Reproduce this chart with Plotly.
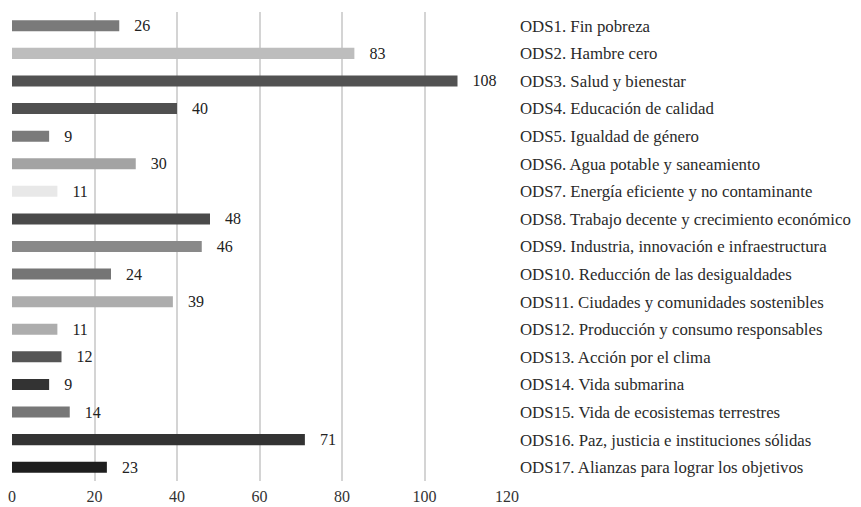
import plotly.graph_objects as go

categories = [
    "ODS1. Fin pobreza",
    "ODS2. Hambre cero",
    "ODS3. Salud y bienestar",
    "ODS4. Educación de calidad",
    "ODS5. Igualdad de género",
    "ODS6. Agua potable y saneamiento",
    "ODS7. Energía eficiente y no contaminante",
    "ODS8. Trabajo decente y crecimiento económico",
    "ODS9. Industria, innovación e infraestructura",
    "ODS10. Reducción de las desigualdades",
    "ODS11. Ciudades y comunidades sostenibles",
    "ODS12. Producción y consumo responsables",
    "ODS13. Acción por el clima",
    "ODS14. Vida submarina",
    "ODS15. Vida de ecosistemas terrestres",
    "ODS16. Paz, justicia e instituciones sólidas",
    "ODS17. Alianzas para lograr los objetivos",
]
values = [26, 83, 108, 40, 9, 30, 11, 48, 46, 24, 39, 11, 12, 9, 14, 71, 23]
colors = ["#7a7a7a", "#bdbdbd", "#525252", "#505050", "#7a7a7a", "#a3a3a3",
          "#e8e8e8", "#4a4a4a", "#898989", "#757575", "#adadad", "#adadad",
          "#555555", "#333333", "#777777", "#333333", "#1e1e1e"]
x_ticks = [0, 20, 40, 60, 80, 100, 120]

FONT = "Liberation Serif"

fig = go.Figure(go.Bar(
    x=values, y=categories, orientation="h",
    marker=dict(color=colors, line=dict(width=0)),
    width=0.4,
    text=values, texttemplate="   %{x}", textposition="outside",
    constraintext="none",
    textfont=dict(family=FONT, size=16, color="#222222"),
    cliponaxis=False,
))

fig.update_layout(
    width=853, height=499,
    margin=dict(l=4, r=354, t=4, b=26, autoexpand=False),
    plot_bgcolor="white", paper_bgcolor="white",
    showlegend=False,
    font=dict(family=FONT, color="#333333"),
    xaxis=dict(range=[0, 120], tickvals=x_ticks, showgrid=True, automargin=False,
               gridcolor="#d4d4d4", gridwidth=1.5, zeroline=False,
               showline=False, ticks="", ticklabelstandoff=4,
               tickfont=dict(size=16, color="#333333")),
    yaxis=dict(autorange="reversed", side="right", showgrid=False, automargin=False,
               ticks="", ticklabelstandoff=12,
               tickfont=dict(size=16.8, color="#2a2a2a")),
    bargap=0.6,
)

fig.write_html("out.html")
